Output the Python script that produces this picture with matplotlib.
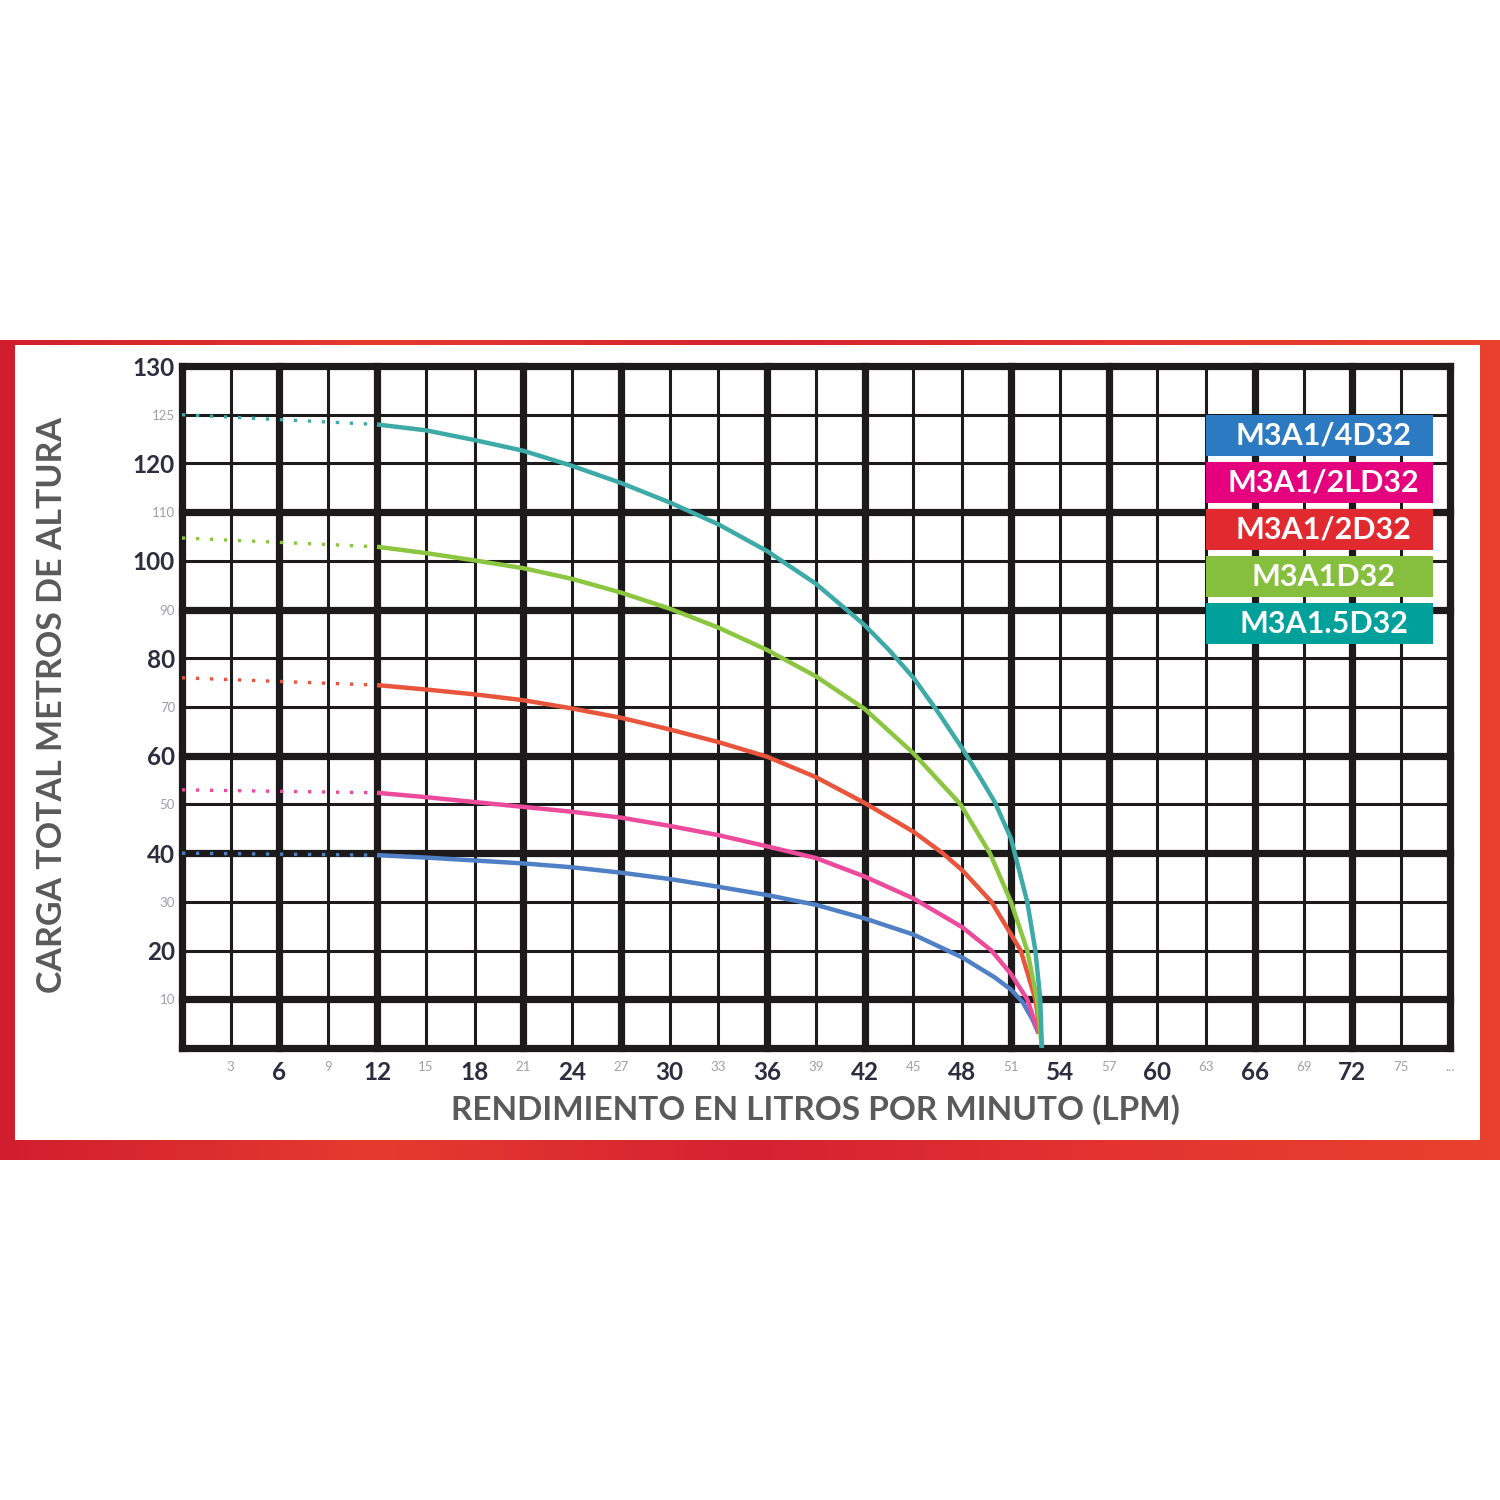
import numpy as np
import matplotlib
matplotlib.use("Agg")
import matplotlib.pyplot as plt
from matplotlib.patches import Rectangle
from matplotlib.colors import LinearSegmentedColormap

plt.rcParams['font.family'] = ['Lato', 'DejaVu Sans']

# Data (flow in LPM, head in metres as labelled on the chart)
models = ['M3A1/4D32', 'M3A1/2LD32', 'M3A1/2D32', 'M3A1D32', 'M3A1.5D32']

blue_x = [0, 12, 15, 18, 21, 24, 27, 30, 33, 36, 39, 42, 45, 48, 50, 51, 51.7, 52.3, 52.7]
blue_y = [40, 39.6, 39.1, 38.5, 37.9, 37.1, 36, 34.7, 33.1, 31.4, 29.4, 26.6, 23.3, 18.6, 14.5, 12, 9.5, 6, 3]

pink_x = [0, 12, 15, 18, 21, 24, 27, 30, 33, 36, 39, 42, 45, 48, 49.8, 51, 52, 52.7]
pink_y = [53, 52.4, 51.5, 50.5, 49.5, 48.5, 47.3, 45.6, 43.7, 41.4, 39, 35.2, 30.7, 24.8, 20, 15.2, 10, 3]

red_x = [0, 12, 15, 18, 21, 24, 27, 30, 33, 36, 39, 42, 45, 46.8, 48, 49.8, 51.6, 52.5, 52.8]
red_y = [76, 74.5, 73.6, 72.6, 71.4, 69.7, 67.8, 65.4, 62.8, 59.8, 55.6, 50.3, 44.4, 40, 36.5, 30, 20, 10, 3]

green_x = [0, 12, 15, 18, 21, 24, 27, 30, 33, 36, 39, 42, 45, 47.9, 49.7, 51, 52, 52.6, 52.9]
green_y = [104.7, 102.9, 101.6, 100.1, 98.5, 96.3, 93.5, 90.2, 86.3, 81.7, 76.3, 69.6, 60.5, 50, 40, 30, 20, 10, 0]

teal_x = [0, 12, 15, 18, 21, 24, 27, 30, 33, 36, 39, 42, 43.5, 45, 46.5, 48, 49.2, 50, 51, 52, 52.5, 52.8, 52.9]
teal_y = [125, 124, 123.4, 122.4, 121.3, 119.5, 116, 112, 107.5, 102, 95.3, 86.8, 81.7, 76, 69, 61.5, 55, 50.5, 43, 30, 20, 10, 0]

x_major = [6, 12, 18, 24, 30, 36, 42, 48, 54, 60, 66, 72]
x_minor = [3, 9, 15, 21, 27, 33, 39, 45, 51, 57, 63, 69, 75, 78]
x_minor_labels = ['3', '9', '15', '21', '27', '33', '39', '45', '51', '57', '63', '69', '75', '...']
y_major = [20, 40, 60, 80, 100, 120, 130]
y_minor = [10, 30, 50, 70, 90, 110, 125]

x_grid = list(range(0, 79, 3))
x_thick = [0, 6, 12, 21, 27, 36, 42, 51, 57, 66, 72, 78]
y_grid = list(range(0, 121, 10)) + [125, 130]
y_thick = [0, 10, 40, 60, 90, 110, 130]

curve_colors = ['#4f80c6', '#ec4b9b', '#e8553c', '#8cc640', '#3eaaa8']
box_colors = ['#2c7bc2', '#e5007e', '#e02a2f', '#86bf3e', '#00a19a']


# the top two rows of the grid are 5 m each, the rest 10 m
def fwd(v):
    v = np.asarray(v, dtype=float)
    return np.where(v <= 120, v, 120 + (v - 120) * 2)


def inv(p):
    p = np.asarray(p, dtype=float)
    return np.where(p <= 120, p, 120 + (p - 120) / 2)


fig = plt.figure(figsize=(15, 15), dpi=100)

# red frame
bg = fig.add_axes([0, 0, 1, 1])
bg.set_xlim(0, 1)
bg.set_ylim(0, 1)
bg.axis('off')
cmap = LinearSegmentedColormap.from_list('frame', ['#d01e2e', '#e63a2e', '#d42232', '#e33430', '#e8422e'])
grad = np.linspace(0, 1, 256).reshape(1, -1)
bg.imshow(grad, extent=[0, 1, 0.2267, 0.7733], aspect='auto', cmap=cmap)
bg.add_patch(Rectangle((0.01, 0.24), 0.9767, 0.53, facecolor='white', edgecolor='none'))

ax = fig.add_axes([0.1213, 0.3013, 0.8453, 0.4547])
ax.set_yscale('function', functions=(fwd, inv))
ax.set_xlim(0, 78)
ax.set_ylim(0, 130)
for s in ax.spines.values():
    s.set_visible(False)
ax.patch.set_alpha(0)

grid_col = '#1c1a1a'
for gx in x_grid:
    ax.axvline(gx, color=grid_col, lw=5.2 if gx in x_thick else 2.2, zorder=1, clip_on=False)
for gy in y_grid:
    ax.axhline(gy, color=grid_col, lw=5.2 if gy in y_thick else 2.2, zorder=1, clip_on=False)

series = [(blue_x, blue_y), (pink_x, pink_y), (red_x, red_y), (green_x, green_y), (teal_x, teal_y)]
for (xs, ys), c in zip(series, curve_colors):
    ax.plot(xs[:2], ys[:2], color=c, lw=2.4, linestyle=(0, (1, 3.2)), zorder=3)
    ax.plot(xs[1:], ys[1:], color=c, lw=3.2, zorder=4, solid_capstyle='butt', solid_joinstyle='round')

ax.set_xticks(x_major, labels=[str(v) for v in x_major])
ax.set_xticks(x_minor, labels=x_minor_labels, minor=True)
ax.set_yticks(y_major, labels=[str(v) for v in y_major])
ax.set_yticks(y_minor, labels=[str(v) for v in y_minor], minor=True)
ax.tick_params(which='major', length=0, labelsize=17.5, labelcolor='#2d2d3f')
ax.tick_params(which='minor', length=0, labelsize=9.5, labelcolor='#a0a0a6')
ax.tick_params(axis='x', which='both', pad=9)
ax.tick_params(axis='y', which='both', pad=5)
for lab in ax.get_xticklabels() + ax.get_yticklabels():
    lab.set_fontweight('bold')

ax.set_xlabel('RENDIMIENTO EN LITROS POR MINUTO (LPM)', fontsize=24, color='#5a5a5a',
              fontweight='bold', labelpad=8)
fig.text(0.035, 0.53, 'CARGA TOTAL METROS DE ALTURA', rotation=90, fontsize=24.5,
         color='#5a5a5a', fontweight='bold', ha='center', va='center')

# legend blocks
bx, bw, bh, step, top = 0.808, 0.1786, 0.060, 0.0689, 0.928
for i, (name, c) in enumerate(zip(models, box_colors)):
    y0 = top - bh - i * step
    ax.add_patch(Rectangle((bx, y0), bw, bh, transform=ax.transAxes, facecolor=c,
                           edgecolor='none', zorder=6))
    ax.text(bx + bw / 2 + 0.003, y0 + bh / 2, name, transform=ax.transAxes, color='white',
            fontsize=22, fontweight='bold', ha='center', va='center', zorder=7)

fig.savefig('out.png', dpi=100)
